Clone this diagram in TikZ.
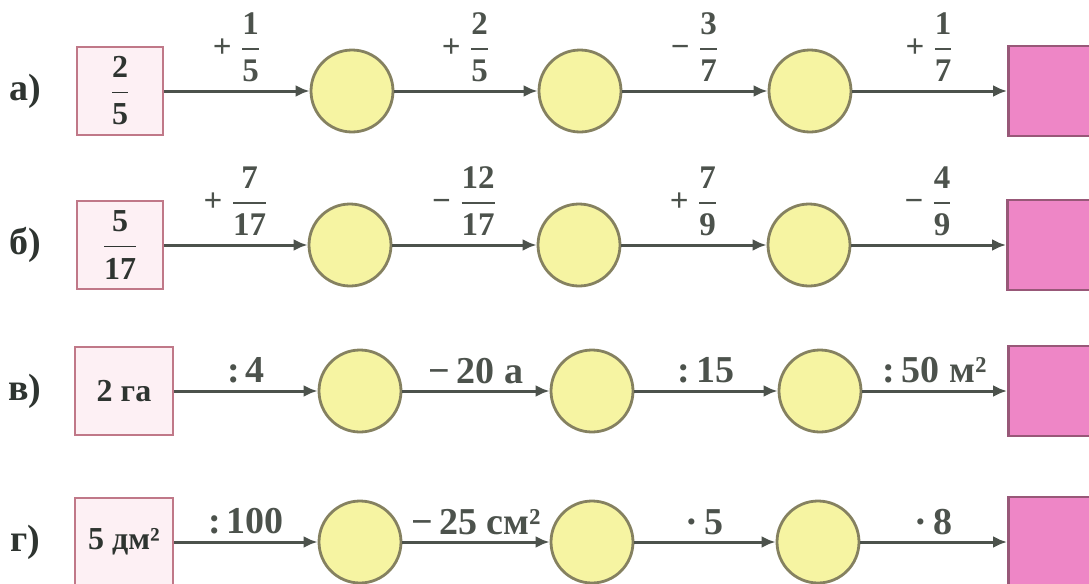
\documentclass[tikz,border=0pt]{standalone}
\usepackage{amsmath}
\usepackage{fontspec}
\setmainfont{Liberation Serif}
\usetikzlibrary{positioning,arrows.meta}
\definecolor{cP}{HTML}{C07888}
\definecolor{cPf}{HTML}{FDF0F4}
\definecolor{cY}{HTML}{F6F4A2}
\definecolor{cO}{HTML}{858160}
\definecolor{cM}{HTML}{EE86C6}
\definecolor{cMd}{HTML}{985878}
\definecolor{cL}{HTML}{4C524C}
\definecolor{cT}{HTML}{2E3430}
\newcommand{\fr}[2]{\ensuremath{\dfrac{\text{#1}}{\text{#2}}}}
\begin{document}
\begin{tikzpicture}[x=0.5pt,y=-0.5pt,
  font=\fontsize{19}{22}\selectfont\bfseries, text=cT,
  st/.style={draw=cP,fill=cPf,line width=1.4pt,minimum width=43pt,minimum height=44pt,inner sep=1pt,font=\fontsize{16}{19}\selectfont\bfseries},
  stw/.style={st,minimum width=49pt},
  cr/.style={circle,draw=cO,fill=cY,line width=1.4pt,minimum size=41pt,inner sep=0pt},
  en/.style={draw=cMd,fill=cM,line width=1.4pt,minimum width=43pt,minimum height=45pt,anchor=west},
  lb/.style={midway,above=2pt,inner sep=1pt},
  lf/.style={lb,above=3pt,font=\fontsize{16.5}{19}\selectfont\bfseries},
  ar/.style={-{Latex[length=7pt,width=6pt]},cL,line width=1.5pt}]
\useasboundingbox (0,0) rectangle (1089,584);
% row a
\node (la) at (25,91) {а)};
\node[st] (a0) at (120,91) {\fr{2}{5}};
\node[cr] (a1) at (352,91) {};
\node[cr] (a2) at (580,91) {};
\node[cr] (a3) at (810,91) {};
\node[en] (a4) at (1007,91) {};
\draw[ar] (a0) -- (a1) node[lf] {+ \fr{1}{5}};
\draw[ar] (a1) -- (a2) node[lf] {+ \fr{2}{5}};
\draw[ar] (a2) -- (a3) node[lf] {− \fr{3}{7}};
\draw[ar] (a3) -- (a4) node[lf] {+ \fr{1}{7}};
% row b
\node (lb) at (25,245) {б)};
\node[st] (b0) at (120,245) {\fr{5}{17}};
\node[cr] (b1) at (350,245) {};
\node[cr] (b2) at (579,245) {};
\node[cr] (b3) at (809,245) {};
\node[en] (b4) at (1006,245) {};
\draw[ar] (b0) -- (b1) node[lf] {+ \fr{7}{17}};
\draw[ar] (b1) -- (b2) node[lf] {− \fr{12}{17}};
\draw[ar] (b2) -- (b3) node[lf] {+ \fr{7}{9}};
\draw[ar] (b3) -- (b4) node[lf] {− \fr{4}{9}};
% row v
\node (lv) at (25,391) {в)};
\node[stw] (v0) at (124,391) {2 га};
\node[cr] (v1) at (360,391) {};
\node[cr] (v2) at (592,391) {};
\node[cr] (v3) at (820,391) {};
\node[en] (v4) at (1007,391) {};
\draw[ar] (v0) -- (v1) node[lb] {:\,4};
\draw[ar] (v1) -- (v2) node[lb] {−\,20 а};
\draw[ar] (v2) -- (v3) node[lb] {:\,15};
\draw[ar] (v3) -- (v4) node[lb] {:\,50 м²};
% row g
\node (lg) at (25,542) {г)};
\node[stw] (g0) at (124,542) {5 дм²};
\node[cr] (g1) at (360,542) {};
\node[cr] (g2) at (592,542) {};
\node[cr] (g3) at (818,542) {};
\node[en] (g4) at (1007,542) {};
\draw[ar] (g0) -- (g1) node[lb] {:\,100};
\draw[ar] (g1) -- (g2) node[lb] {−\,25 см²};
\draw[ar] (g2) -- (g3) node[lb] {·\,5};
\draw[ar] (g3) -- (g4) node[lb] {·\,8};
\end{tikzpicture}
\end{document}
